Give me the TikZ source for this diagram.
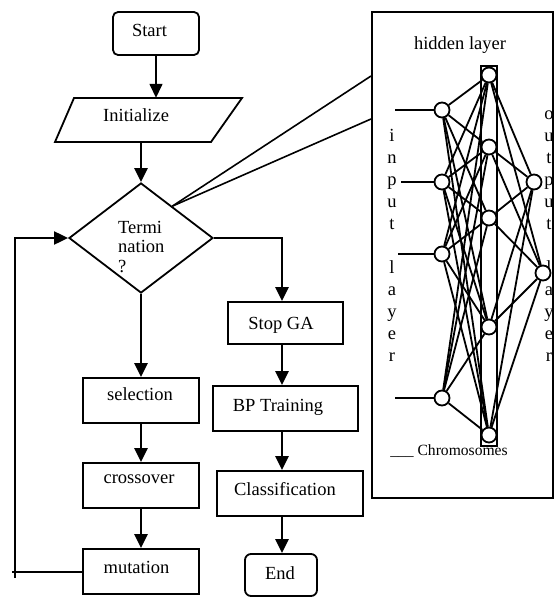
\documentclass[tikz,border=0pt]{standalone}
\usepackage{fontspec}
\setmainfont{Liberation Serif}
\usetikzlibrary{shapes.geometric,arrows.meta,calc}
\begin{document}
\begin{tikzpicture}[x=1pt,y=-1pt,
  box/.style={draw, line width=1.8pt, inner sep=0pt},
  txt/.style={anchor=base, inner sep=0pt, font=\fontsize{18.5}{22}\selectfont},
  lett/.style={anchor=mid, inner sep=0pt, font=\fontsize{18.5}{22}\selectfont},
  tiparrow/.style={-{Triangle[width=13pt,length=14pt]}},
  thinarrow/.style={tiparrow, line width=1.5pt},
  thickarrow/.style={tiparrow, line width=2.8pt},
  loopline/.style={line width=2pt},
  thinline/.style={line width=1.6pt},
  neuron/.style={circle, draw, fill=white, line width=1.8pt, minimum size=15pt, inner sep=0pt},
  edge/.style={line width=1.8pt}
]
\useasboundingbox (0,0) rectangle (556,597);

% ---------- left column ----------
\node[box, rounded corners=5pt, minimum width=86pt, minimum height=43pt] (start) at (156,33.5) {};
\node[txt] (tstart) at (149.5,36.5) {Start};

\node[minimum width=150pt, minimum height=44pt, inner sep=0pt] (init) at (148,120) {};
\draw[line width=1.8pt, line join=miter] (55,142) -- (74,98) -- (242,98) -- (211,142) -- cycle;
\node[txt, anchor=base west] (tinit) at (103,121) {Initialize};

\node[box, diamond, minimum width=144pt, minimum height=110pt] (term) at (141,238) {};
\node[txt, anchor=base west] (tt1) at (118,233) {Termi};
\node[txt, anchor=base west] (tt2) at (118,252.5) {nation};
\node[txt, anchor=base west] (tt3) at (118,272) {?};

\node[box, minimum width=116pt, minimum height=45pt] (sel) at (141,400.5) {};
\node[txt] (tsel) at (140,400) {selection};
\node[box, minimum width=116pt, minimum height=45pt] (cross) at (141,485.5) {};
\node[txt] (tcross) at (139,483) {crossover};
\node[box, minimum width=116pt, minimum height=45pt] (mut) at (141,571.5) {};
\node[txt] (tmut) at (136.5,573) {mutation};

\draw[thinarrow] (start.south) -- (start.south |- init.north);
\draw[thickarrow] (init.south -| term.north) -- (term.north);
\draw[thickarrow] (term.south) -- (sel.north);
\draw[thickarrow] (sel.south) -- (cross.north);
\draw[thickarrow] (cross.south) -- (mut.north);

% loop back
\coordinate (lpA) at (12,571.5);
\coordinate (lpB) at (15,578);
\coordinate (lpC) at (15,238);
\draw[loopline] (mut.west) -- (lpA);
\draw[loopline, tiparrow] (lpB) -- (lpC) -- (term.west);

% ---------- right column ----------
\coordinate (ax) at (282,0);
\node[box, minimum width=115pt, minimum height=42pt] (stop) at (285.5,323) {};
\node[txt] (tstop) at (281,329) {Stop GA};
\node[box, minimum width=145pt, minimum height=45pt] (bp) at (285.5,408.5) {};
\node[txt] (tbp) at (278,411) {BP Training};
\node[box, minimum width=146pt, minimum height=45pt] (cls) at (290,493.5) {};
\node[txt] (tcls) at (285,495) {Classification};
\node[box, rounded corners=6pt, minimum width=72pt, minimum height=42pt] (end) at (281,575) {};
\node[txt] (tend) at (280,579) {End};

\draw[thickarrow] (term.east) -| (ax |- stop.north);
\draw[thickarrow] (ax |- stop.south) -- (ax |- bp.north);
\draw[thickarrow] (ax |- bp.south) -- (ax |- cls.north);
\draw[thickarrow] (ax |- cls.south) -- (ax |- end.north);

% ---------- neural network panel ----------
\node[draw, line width=2pt, minimum width=181pt, minimum height=486pt, inner sep=0pt] (nn) at (462.5,255) {};
\coordinate (dp) at ($(term.north)!0.43!(term.east)$);
\draw[thinline] (dp) -- ($(nn.north west)+(0,65)$);
\draw[thinline] (dp) -- ($(nn.north west)+(0,108)$);

\node[lett] (hl) at (460,47) {hidden layer};

\node[draw, line width=1.6pt, minimum width=16pt, minimum height=380pt, inner sep=0pt] (hrect) at (489,256) {};

% input layer letters
\foreach \c/\y [count=\k] in {i/139,n/161,p/183,u/205,t/227,l/271,a/293,y/315,e/337,r/359}
  \node[lett] (il\k) at (392,\y) {\c};
% output layer letters
\foreach \c/\y [count=\k] in {o/117,u/139,t/161,p/183,u/205,t/227,l/271,a/293,y/315,e/337,r/359}
  \node[lett] (ol\k) at (549,\y) {\c};

\node[txt, font=\fontsize{15.6}{18}\selectfont] (chrom) at (449,455) {\_\_\_ Chromosomes};

% neurons
\node[neuron] (i1) at (442,110) {};
\node[neuron] (i2) at (442,182) {};
\node[neuron] (i3) at (442,254) {};
\node[neuron] (i4) at (442,398) {};
\node[neuron] (h1) at (489,75) {};
\node[neuron] (h2) at (489,147) {};
\node[neuron] (h3) at (489,218) {};
\node[neuron] (h4) at (489,327) {};
\node[neuron] (h5) at (489,435) {};
\node[neuron] (o1) at (534,182) {};
\node[neuron] (o2) at (543,273) {};

\foreach \i in {1,...,4}
  \foreach \h in {1,...,5}
    \draw[edge] (i\i) -- (h\h);
\foreach \h in {1,...,5}
  \foreach \o in {1,2}
    \draw[edge] (h\h) -- (o\o);

% input stubs
\coordinate (s1) at (395,110);
\coordinate (s2) at (401,182);
\coordinate (s3) at (398,254);
\coordinate (s4) at (395,398);
\foreach \k in {1,...,4}
  \draw[thinline] (s\k) -- (i\k);
\end{tikzpicture}
\end{document}
